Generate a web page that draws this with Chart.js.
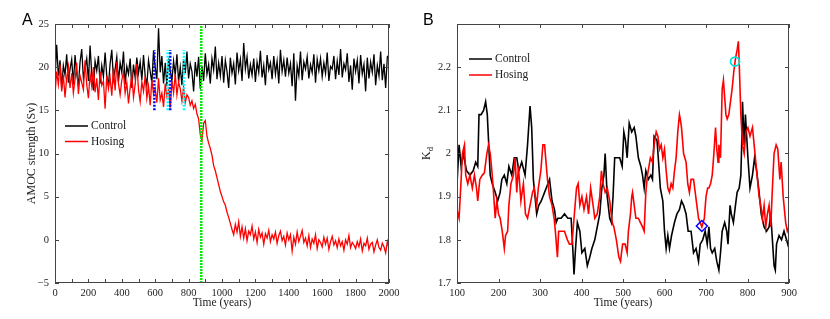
<!DOCTYPE html>
<html>
<head>
<meta charset="utf-8">
<script src="https://cdn.jsdelivr.net/npm/chart.js@4.4.0/dist/chart.umd.min.js"></script>
<style>
  html, body { margin: 0; padding: 0; background: #fff; }
  #wrap { position: relative; width: 830px; height: 319px; }
  canvas { position: absolute; top: 0; }
  #amoc { left: 0; }
  #kd { left: 415px; }
</style>
</head>
<body>
<div id="wrap">
  <canvas id="amoc" width="415" height="319"></canvas>
  <canvas id="kd" width="415" height="319"></canvas>
</div>
<script>
// ---- panel A: AMOC strength, one value every 10 years from year 0 to 2000
const AMOC_STEP = 10;
const amocControl = [
  18.5, 22.6, 19.0, 20.8, 17.5, 20.2, 19.1, 21.5, 18.2, 19.8,
  20.9, 18.0, 21.4, 19.3, 17.8, 20.6, 22.1, 18.7, 19.9, 21.0,
  18.4, 22.5, 19.2, 17.3, 20.7, 19.6, 21.3, 18.1, 20.2, 18.9,
  21.7, 19.0, 17.9, 20.4, 22.0, 18.6, 19.8, 21.2, 18.3, 20.5,
  19.4, 21.8, 18.0, 20.1, 19.2, 21.0, 17.6, 20.3, 18.8, 21.1,
  19.3, 20.6, 18.5, 21.4, 19.0, 17.9, 20.8, 19.5, 18.2, 21.9,
  20.0, 18.6, 24.5, 19.4, 21.3, 18.1, 20.5, 17.8, 21.0, 19.6,
  18.4, 20.7, 19.1, 21.5, 18.3, 20.0, 17.9, 20.9, 19.3, 21.8,
  18.7, 20.4, 19.5, 17.2, 20.6, 18.9, 21.2, 17.5, 20.1, 18.4,
  21.6, 19.2, 20.3, 18.1, 21.0, 19.7, 22.4, 18.6, 20.5, 19.0,
  21.3, 18.2, 20.8, 19.5, 17.6, 21.1, 19.3, 20.4, 18.0, 21.7,
  19.6, 20.9, 18.4, 22.8, 19.8, 21.2, 18.7, 20.3, 19.1, 21.0,
  18.3, 20.6, 19.4, 21.9, 18.8, 20.2, 17.9, 21.4, 19.7, 20.5,
  18.6, 21.3, 19.2, 20.7, 18.1, 22.0, 19.5, 20.8, 18.9, 21.1,
  19.3, 20.4, 17.8, 21.6, 16.1, 20.2, 19.0, 21.8, 18.5, 20.6,
  19.8, 21.2, 18.7, 20.3, 19.4, 21.5, 18.2, 20.9, 19.6, 21.0,
  18.9, 20.5, 19.3, 21.7, 18.4, 20.1, 19.8, 21.3, 18.6, 20.7,
  19.1, 22.1, 18.8, 20.4, 19.7, 21.6, 18.3, 20.2, 17.4, 21.0,
  19.5, 20.8, 18.1, 21.4, 19.2, 20.3, 17.2, 21.1, 18.7, 20.6,
  19.4, 21.5, 17.9, 20.2, 19.0, 21.8, 18.5, 20.4, 17.6, 21.2,
  21.4,
];
const amocHosing = [
  16.8, 19.5, 18.0, 20.3, 17.2, 19.1, 16.5, 18.8, 20.1, 17.6,
  19.3, 17.0, 18.6, 20.5, 16.9, 19.0, 18.2, 17.4, 20.8, 18.0,
  16.4, 19.2, 17.8, 20.0, 17.1, 18.7, 16.2, 19.5, 17.9, 18.4,
  15.2, 19.0, 17.5, 18.8, 16.7, 19.9, 17.3, 20.6, 18.1, 16.8,
  18.5, 19.4, 17.0, 18.2, 15.8, 17.6, 19.1, 16.5, 18.0, 20.4,
  17.4, 16.0, 18.3, 17.2, 19.0, 16.4, 17.8, 15.6, 18.5, 16.9,
  17.5, 15.9, 18.7, 16.2, 17.0, 15.4, 18.1, 16.6, 17.4, 15.3,
  18.4, 17.0, 19.2, 16.8, 18.3, 17.5, 16.1, 17.7, 15.9, 16.8,
  16.5, 15.6, 16.1, 15.2, 15.7, 14.6, 14.0, 12.2, 11.5, 13.5,
  13.8, 12.0, 11.2, 10.6, 9.8, 8.6, 8.0, 7.2, 6.4, 5.6,
  5.0, 4.4, 4.0, 3.2, 2.6, 1.9, 1.2, 0.6, 1.8, 0.9,
  2.1, 0.4, 1.5, 0.2, 1.3, -0.1, 1.0, 0.6, 1.6, 0.1,
  0.9, -0.3, 1.2, 0.3, 0.8, -0.5, 0.7, 0.2, 1.1, -0.2,
  0.6, 0.1, 0.9, -0.4, 0.5, 1.0, -0.1, 0.4, -0.6, 0.8,
  0.0, 0.6, -1.3, 0.3, -0.5, 0.9, -0.2, 0.4, 1.1, -0.3,
  0.2, -0.7, 0.5, -0.9, 0.1, -0.4, 0.6, -1.0, 0.0, -0.3,
  -0.8, 0.3, -0.5, 0.2, -1.1, -0.2, 0.4, -0.6, -0.1, -0.9,
  0.1, -0.7, -0.2, -1.2, 0.0, -0.5, 0.5, -0.9, -0.3, -0.6,
  -1.0, -0.2, -0.8, 0.1, -1.3, -0.4, -0.7, 0.2, -1.1, -0.5,
  -0.3, -1.4, -0.6, 0.0, -0.9, -1.2, -0.4, -0.8, -1.5, -0.2,
  -1.0,
];
// marked windows (years) and the vertical extent of their markers (Sv)
const blueWindowYears = [595, 690];
const cyanWindowYears = [675, 772];
const windowRange = [15, 22];
const tippingYear = 876;

// ---- panel B: Kd
const kdControlYears = [
  100, 105, 110, 115, 123, 131, 139, 145, 150, 153, 158, 164, 169, 173, 176, 180, 185, 192, 198, 204,
  208, 214, 220, 225, 232, 238, 244, 249, 256, 264, 270, 276, 280, 284, 292, 297, 303, 311, 319, 323,
  329, 335, 339, 343, 351, 359, 367, 375, 379, 382, 385, 390, 396, 401, 408, 414, 420, 425, 432, 438,
  444, 449, 454, 457, 462, 468, 472, 476, 480, 486, 492, 498, 502, 506, 510, 515, 521, 527, 531, 537,
  543, 547, 551, 555, 561, 567, 571, 575, 582, 585, 590, 596, 600, 604, 608, 612, 617, 624, 630, 636,
  641, 646, 652, 657, 664, 670, 676, 682, 686, 692, 698, 703, 707, 711, 715, 721, 726, 731, 735, 739,
  745, 750, 753, 758, 761, 766, 771, 775, 780, 784, 786, 788, 792, 795, 798, 801, 806, 812, 817, 822,
  828, 833, 840, 846, 852, 856, 860, 864, 867, 870, 876, 882, 888, 894, 900,
];
const kdControl = [
  1.93, 2.02, 1.97, 2.00, 1.96, 1.95, 1.96, 1.98, 1.97, 2.09, 2.09, 2.10, 2.12, 2.09, 2.03, 1.95, 1.93, 1.91, 1.89, 1.91,
  1.94, 1.95, 1.93, 1.97, 1.95, 1.99, 1.99, 1.96, 1.98, 1.95, 2.02, 2.11, 2.06, 1.94, 1.86, 1.88, 1.89, 1.91, 1.93, 1.94,
  1.89, 1.87, 1.84, 1.85, 1.85, 1.86, 1.85, 1.85, 1.78, 1.72, 1.77, 1.84, 1.82, 1.77, 1.78, 1.74, 1.76, 1.78, 1.80, 1.83,
  1.86, 1.92, 1.95, 2.00, 1.90, 1.85, 1.84, 1.90, 1.99, 1.99, 1.99, 1.97, 2.05, 2.03, 1.99, 2.07, 2.05, 2.06, 2.04, 1.99,
  1.97, 1.95, 1.92, 1.96, 1.94, 1.95, 1.94, 2.04, 2.03, 1.99, 1.92, 1.89, 1.82, 1.78, 1.81, 1.78, 1.81, 1.84, 1.86, 1.87,
  1.89, 1.88, 1.86, 1.82, 1.82, 1.77, 1.78, 1.75, 1.79, 1.80, 1.82, 1.79, 1.83, 1.78, 1.77, 1.78, 1.75, 1.73, 1.77, 1.82,
  1.84, 1.82, 1.79, 1.88, 1.86, 1.84, 1.88, 1.91, 1.92, 1.95, 2.02, 2.12, 2.02, 2.09, 2.04, 1.99, 1.92, 1.95, 1.99, 1.96,
  1.91, 1.86, 1.83, 1.82, 1.83, 1.86, 1.80, 1.74, 1.73, 1.79, 1.81, 1.80, 1.82, 1.80, 1.78,
];
const kdHosingYears = [
  100, 105, 110, 113, 118, 121, 126, 131, 137, 142, 147, 150, 155, 161, 166, 172, 176, 180, 184, 188,
  192, 196, 200, 204, 209, 214, 217, 222, 225, 230, 236, 240, 244, 248, 254, 260, 265, 270, 276, 282,
  286, 292, 296, 302, 307, 311, 318, 323, 329, 334, 337, 342, 345, 351, 359, 366, 371, 377, 382, 388,
  392, 396, 401, 406, 412, 417, 422, 428, 432, 438, 444, 448, 452, 457, 462, 468, 474, 478, 484, 490,
  494, 499, 505, 510, 513, 518, 521, 523, 527, 531, 537, 542, 547, 551, 555, 559, 566, 571, 575, 580,
  584, 588, 592, 596, 600, 604, 608, 612, 616, 620, 624, 628, 632, 636, 638, 641, 646, 652, 656, 660,
  664, 670, 674, 678, 682, 686, 690, 696, 700, 704, 707, 711, 715, 719, 723, 726, 729, 731, 735, 739,
  742, 745, 748, 751, 755, 759, 763, 767, 771, 775, 778, 780, 784, 788, 792, 796, 801, 806, 812, 816,
  820, 824, 828, 832, 836, 840, 844, 848, 852, 856, 860, 864, 869, 873, 878, 881, 886, 892, 896, 900,
];
const kdHosing = [
  1.87, 1.85, 1.94, 2.00, 2.02, 1.95, 1.93, 1.95, 1.92, 1.95, 1.92, 1.89, 1.94, 1.95, 1.955, 2.00, 2.02, 2.00, 1.96, 1.91,
  1.85, 1.89, 1.86, 1.85, 1.82, 1.78, 1.81, 1.82, 1.88, 1.93, 1.95, 1.99, 1.91, 1.97, 1.89, 1.93, 1.86, 1.85, 1.88, 1.91,
  1.92, 1.88, 1.92, 1.96, 2.02, 2.02, 1.94, 1.90, 1.88, 1.85, 1.82, 1.76, 1.82, 1.82, 1.82, 1.80, 1.79, 1.79, 1.85, 1.92,
  1.93, 1.88, 1.90, 1.87, 1.90, 1.86, 1.92, 1.88, 1.85, 1.86, 1.90, 1.96, 1.93, 1.91, 1.92, 1.89, 1.84, 1.83, 1.80, 1.76,
  1.75, 1.79, 1.79, 1.77, 1.82, 1.86, 1.90, 1.91, 1.88, 1.85, 1.85, 1.84, 1.83, 1.82, 1.91, 1.95, 1.99, 1.98, 2.02, 2.05,
  2.04, 2.01, 2.02, 1.99, 2.01, 1.96, 1.92, 1.91, 1.93, 1.92, 1.96, 1.99, 2.05, 2.09, 2.08, 2.06, 2.00, 1.98, 1.93, 1.91,
  1.94, 1.94, 1.91, 1.88, 1.85, 1.84, 1.83, 1.85, 1.90, 1.92, 1.92, 1.93, 1.95, 2.00, 2.06, 2.01, 1.98, 2.02, 1.99, 2.15,
  2.17, 2.13, 2.09, 2.08, 2.09, 2.12, 2.15, 2.19, 2.22, 2.24, 2.26, 2.21, 2.09, 2.02, 2.00, 2.05, 2.06, 2.04, 2.06, 2.02,
  1.98, 1.94, 1.90, 1.88, 1.85, 1.88, 1.83, 1.86, 1.88, 1.83, 1.92, 2.00, 2.02, 2.01, 1.94, 1.98, 1.90, 1.84, 1.82, 1.83,
];
// highlighted points on the hosing curve
const blueMarker = { year: 690, kd: 1.832 };
const cyanMarker = { year: 770, kd: 2.213 };

const SERIF = 'Liberation Serif';
const AXIS_COLOR = '#444';
const TEXT_COLOR = '#222';

Chart.defaults.font.family = SERIF;
Chart.defaults.animation = false;

function toPoints(years, values) {
  return values.map((v, i) => ({ x: years[i], y: v }));
}

function evenPoints(values, step) {
  return values.map((v, i) => ({ x: i * step, y: v }));
}

function vline(year, range, color, width, dash, order) {
  return {
    data: [{ x: year, y: range[0] }, { x: year, y: range[1] }],
    borderColor: color,
    borderWidth: width,
    borderDash: dash,
    pointRadius: 0,
    order,
  };
}

// MATLAB-like frame: box, inward ticks on all four sides, titles, legend, panel letter
function framePlugin(opt) {
  return {
    id: 'frame',
    afterDraw(chart) {
      const { ctx, chartArea: a, scales } = chart;
      ctx.save();
      ctx.strokeStyle = AXIS_COLOR;
      ctx.lineWidth = 1;
      ctx.strokeRect(a.left + 0.5, a.top + 0.5, a.right - a.left - 1, a.bottom - a.top - 1);

      const tl = 4;
      ctx.beginPath();
      scales.x.ticks.forEach((t) => {
        const px = Math.round(scales.x.getPixelForValue(t.value)) + 0.5;
        ctx.moveTo(px, a.bottom); ctx.lineTo(px, a.bottom - tl);
        ctx.moveTo(px, a.top); ctx.lineTo(px, a.top + tl);
      });
      scales.y.ticks.forEach((t) => {
        const py = Math.round(scales.y.getPixelForValue(t.value)) + 0.5;
        ctx.moveTo(a.left, py); ctx.lineTo(a.left + tl, py);
        ctx.moveTo(a.right, py); ctx.lineTo(a.right - tl, py);
      });
      ctx.stroke();

      // x title
      ctx.fillStyle = TEXT_COLOR;
      ctx.font = `11.5px ${SERIF}`;
      ctx.textAlign = 'center';
      ctx.textBaseline = 'middle';
      ctx.fillText('Time (years)', (a.left + a.right) / 2, 303);

      // y title, rotated, optional subscript
      ctx.save();
      ctx.translate(opt.yTitleX, (a.top + a.bottom) / 2);
      ctx.rotate(-Math.PI / 2);
      ctx.font = `12px ${SERIF}`;
      const mainW = ctx.measureText(opt.yTitle).width;
      let subW = 0;
      if (opt.ySub) {
        ctx.font = `8.5px ${SERIF}`;
        subW = ctx.measureText(opt.ySub).width;
      }
      const start = -(mainW + subW) / 2;
      ctx.textAlign = 'left';
      ctx.font = `12px ${SERIF}`;
      ctx.fillText(opt.yTitle, start, 0);
      if (opt.ySub) {
        ctx.font = `8.5px ${SERIF}`;
        ctx.fillText(opt.ySub, start + mainW, 4);
      }
      ctx.restore();

      // legend
      ctx.font = `11.5px ${SERIF}`;
      ctx.textAlign = 'left';
      opt.legend.forEach((item, i) => {
        const y = opt.legendY + i * opt.legendGap;
        ctx.strokeStyle = item.color;
        ctx.lineWidth = 1.5;
        ctx.beginPath();
        ctx.moveTo(opt.legendX, y);
        ctx.lineTo(opt.legendX + 23, y);
        ctx.stroke();
        ctx.fillStyle = TEXT_COLOR;
        ctx.fillText(item.label, opt.legendX + 26, y);
      });

      // panel letter
      ctx.font = `16px 'Liberation Sans'`;
      ctx.fillStyle = '#000';
      ctx.textAlign = 'left';
      ctx.fillText(opt.letter, opt.letterX, 21);
      ctx.restore();
    },
  };
}

const tickFont = { family: SERIF, size: 10.5 };
const minus = (v) => (v < 0 ? '\u2212' + Math.abs(v) : String(v));

function baseScales(xMin, xMax, xStep, yMin, yMax, yStep, yWidth, xLabel, yLabel) {
  return {
    x: {
      type: 'linear',
      min: xMin,
      max: xMax,
      grid: { display: false, drawTicks: false },
      border: { display: false },
      ticks: {
        stepSize: xStep,
        autoSkip: false,
        maxRotation: 0,
        padding: 4,
        color: TEXT_COLOR,
        font: tickFont,
        callback: xLabel,
      },
      afterFit(s) { s.height = 36; },
    },
    y: {
      type: 'linear',
      min: yMin,
      max: yMax,
      grid: { display: false, drawTicks: false },
      border: { display: false },
      ticks: {
        stepSize: yStep,
        padding: 6,
        color: TEXT_COLOR,
        font: tickFont,
        callback: yLabel,
      },
      afterFit(s) { s.width = yWidth; },
    },
  };
}

new Chart(document.getElementById('amoc'), {
  type: 'line',
  data: {
    datasets: [
      { label: 'Control', data: evenPoints(amocControl, AMOC_STEP), borderColor: '#000', borderWidth: 1.3, pointRadius: 0, order: 3 },
      { label: 'Hosing', data: evenPoints(amocHosing, AMOC_STEP), borderColor: '#ff0000', borderWidth: 1.3, pointRadius: 0, order: 2 },
      ...blueWindowYears.map((yr) => vline(yr, windowRange, '#0000ff', 2.5, [2, 1.5], 1)),
      ...cyanWindowYears.map((yr) => vline(yr, windowRange, '#00ffff', 2.5, [2, 1.5], 1)),
      vline(tippingYear, [-5, 25], '#00ee00', 2.5, [2, 1], 0),
    ],
  },
  options: {
    responsive: false,
    layout: { padding: { left: 0, top: 24, right: 26, bottom: 0 } },
    plugins: { legend: { display: false }, tooltip: { enabled: false } },
    scales: baseScales(0, 2000, 100, -5, 25, 5, 55,
      (v) => (v % 200 === 0 ? String(v) : ''),
      (v) => minus(v)),
  },
  plugins: [framePlugin({
    letter: 'A', letterX: 22,
    yTitle: 'AMOC strength (Sv)', yTitleX: 32,
    legend: [{ label: 'Control', color: '#000' }, { label: 'Hosing', color: '#ff0000' }],
    legendX: 65, legendY: 126, legendGap: 15.5,
  })],
});

new Chart(document.getElementById('kd'), {
  type: 'line',
  data: {
    datasets: [
      { label: 'Control', data: toPoints(kdControlYears, kdControl), borderColor: '#000', borderWidth: 1.6, pointRadius: 0, order: 3 },
      { label: 'Hosing', data: toPoints(kdHosingYears, kdHosing), borderColor: '#ff0000', borderWidth: 1.6, pointRadius: 0, order: 2 },
      {
        data: [{ x: blueMarker.year, y: blueMarker.kd }], showLine: false,
        pointStyle: 'rectRot', pointRadius: 5.5, borderColor: '#0000ff', borderWidth: 1.5,
        backgroundColor: 'rgba(0,0,0,0)', order: 0,
      },
      {
        data: [{ x: cyanMarker.year, y: cyanMarker.kd }], showLine: false,
        pointStyle: 'circle', pointRadius: 4.5, borderColor: '#00e0e0', borderWidth: 1.8,
        backgroundColor: 'rgba(0,0,0,0)', order: 0,
      },
    ],
  },
  options: {
    responsive: false,
    layout: { padding: { left: 0, top: 24, right: 41, bottom: 0 } },
    plugins: { legend: { display: false }, tooltip: { enabled: false } },
    scales: baseScales(100, 900, 100, 1.7, 2.3, 0.1, 42,
      (v) => String(v),
      (v) => (v > 2.25 ? '' : String(+v.toFixed(1)))),
  },
  plugins: [framePlugin({
    letter: 'B', letterX: 8,
    yTitle: 'K', ySub: 'd', yTitleX: 12,
    legend: [{ label: 'Control', color: '#000' }, { label: 'Hosing', color: '#ff0000' }],
    legendX: 54, legendY: 59, legendGap: 16,
  })],
});
</script>
</body>
</html>
